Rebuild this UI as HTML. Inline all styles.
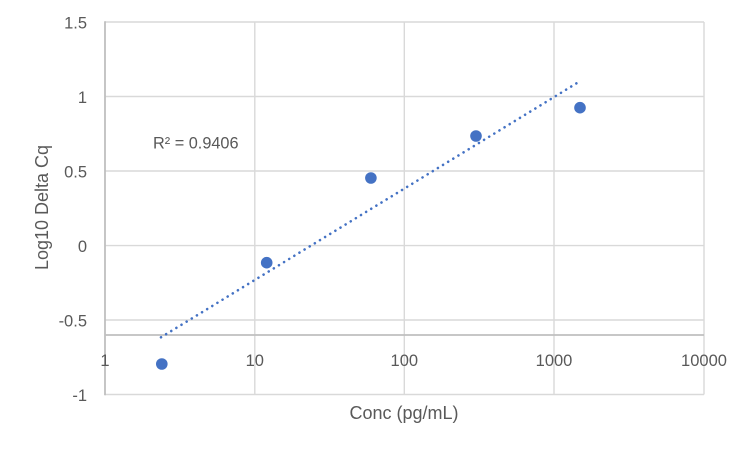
<!DOCTYPE html>
<html>
<head>
<meta charset="utf-8">
<style>
  html, body { margin: 0; padding: 0; background: #ffffff; }
  body { width: 750px; height: 450px; overflow: hidden; }
  svg { display: block; }
  text { font-family: "Liberation Sans", Arial, sans-serif; fill: #595959; }
</style>
</head>
<body>
<svg width="750" height="450" viewBox="0 0 750 450" xmlns="http://www.w3.org/2000/svg">
  <rect x="0" y="0" width="750" height="450" fill="#ffffff"/>

  <!-- horizontal gridlines -->
  <g stroke="#d9d9d9" stroke-width="1.4" fill="none">
    <line x1="105" y1="22" x2="704" y2="22"/>
    <line x1="105" y1="96.5" x2="704" y2="96.5"/>
    <line x1="105" y1="171" x2="704" y2="171"/>
    <line x1="105" y1="245.6" x2="704" y2="245.6"/>
    <line x1="105" y1="320" x2="704" y2="320"/>
    <line x1="105" y1="394.5" x2="704" y2="394.5"/>
    <!-- vertical gridlines -->
    <line x1="254.8" y1="22" x2="254.8" y2="394.5"/>
    <line x1="404.3" y1="22" x2="404.3" y2="394.5"/>
    <line x1="554" y1="22" x2="554" y2="394.5"/>
    <line x1="704" y1="22" x2="704" y2="394.5"/>
  </g>

  <!-- axes -->
  <line x1="105" y1="21.3" x2="105" y2="395.2" stroke="#bfbfbf" stroke-width="1.8"/>
  <line x1="105" y1="335" x2="704" y2="335" stroke="#bfbfbf" stroke-width="1.8"/>

  <!-- y tick labels -->
  <g font-size="16.5" text-anchor="end">
    <text x="87" y="28.5">1.5</text>
    <text x="87" y="103">1</text>
    <text x="87" y="177.5">0.5</text>
    <text x="87" y="252.2">0</text>
    <text x="87" y="326.5">-0.5</text>
    <text x="87" y="401">-1</text>
  </g>

  <!-- x tick labels -->
  <g font-size="16.5" text-anchor="middle">
    <text x="105" y="366">1</text>
    <text x="254.8" y="366">10</text>
    <text x="404.3" y="366">100</text>
    <text x="554" y="366">1000</text>
    <text x="704" y="366">10000</text>
  </g>

  <!-- axis titles -->
  <text x="404" y="419" font-size="18" text-anchor="middle">Conc (pg/mL)</text>
  <text transform="translate(48,207.5) rotate(-90)" x="0" y="0" font-size="18" text-anchor="middle">Log10 Delta Cq</text>

  <!-- R² label -->
  <text x="153" y="148.3" font-size="16.3">R² = 0.9406</text>

  <!-- trendline -->
  <line x1="161" y1="337.3" x2="580.3" y2="81" stroke="#4472c4" stroke-width="2.6" stroke-linecap="round" stroke-dasharray="0.01 6"/>

  <!-- markers -->
  <g fill="#4472c4">
    <circle cx="161.8" cy="364" r="5.8"/>
    <circle cx="266.7" cy="262.7" r="5.8"/>
    <circle cx="370.9" cy="178" r="5.8"/>
    <circle cx="476" cy="136" r="5.8"/>
    <circle cx="580" cy="107.7" r="5.8"/>
  </g>
</svg>
</body>
</html>
